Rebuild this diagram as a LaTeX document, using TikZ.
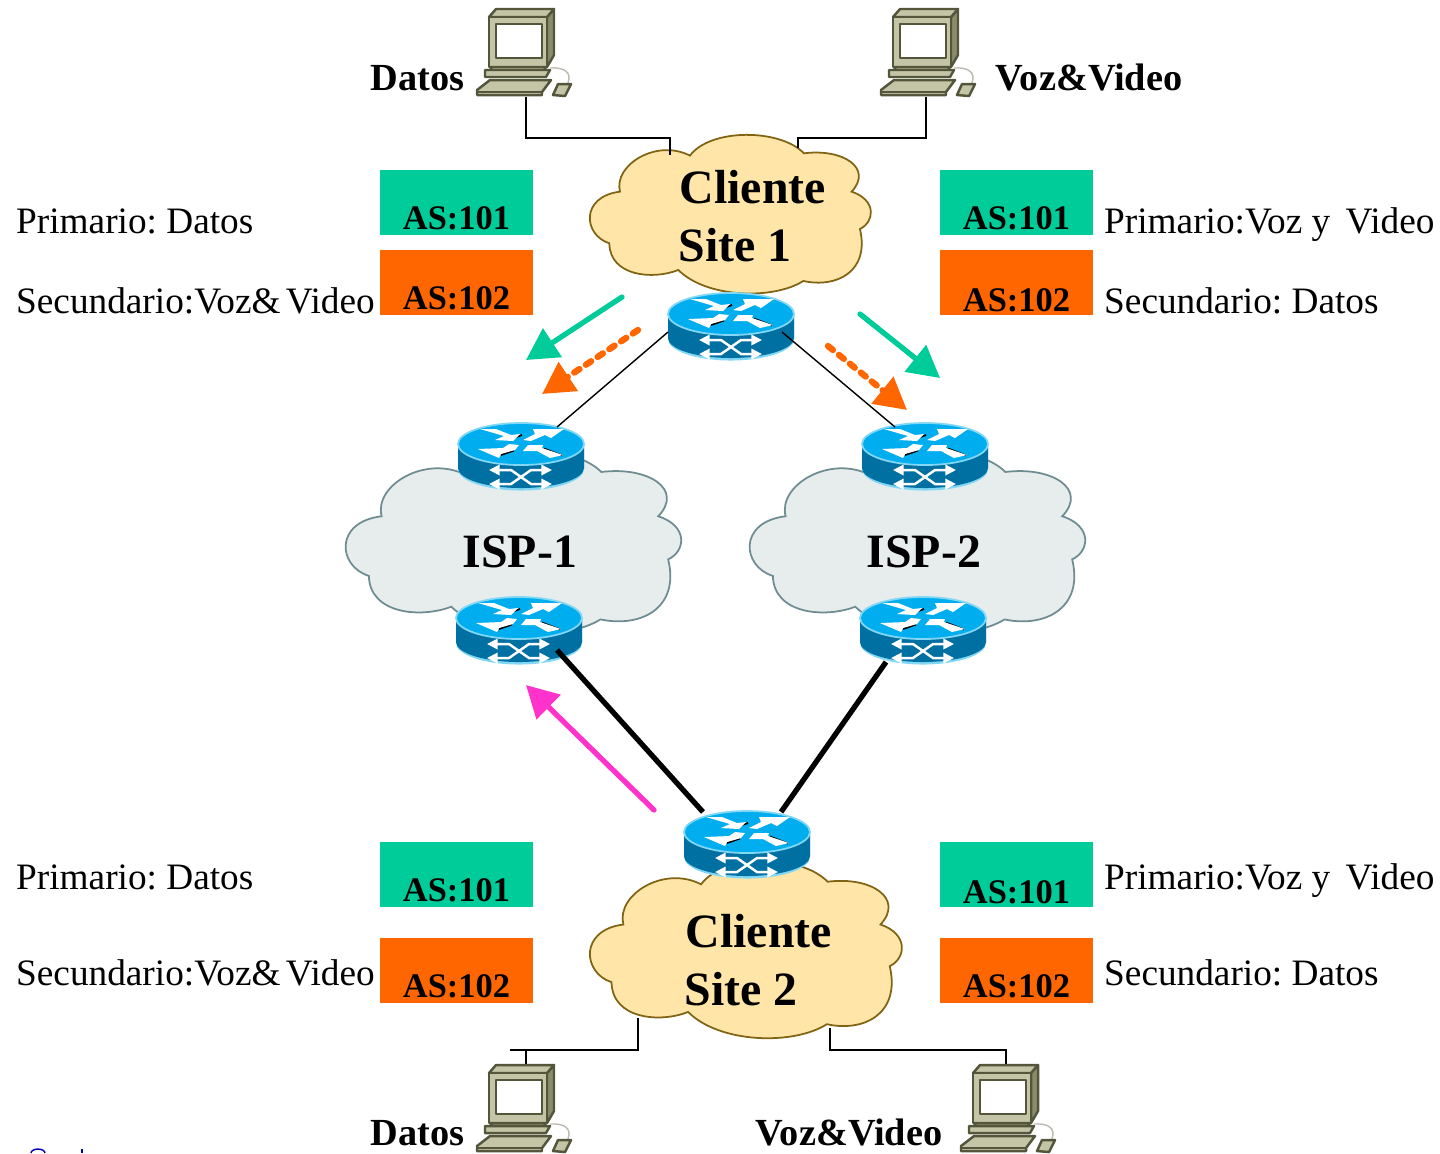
\documentclass[tikz,border=0pt]{standalone}
\usepackage{fontspec}
\setmainfont{Liberation Serif}
\usetikzlibrary{arrows.meta}
\frenchspacing
\definecolor{asgreen}{RGB}{0,204,153}
\definecolor{asorange}{RGB}{255,102,0}
\definecolor{asmagenta}{RGB}{255,51,204}
\definecolor{routertop}{RGB}{0,174,239}
\definecolor{routerside}{RGB}{0,112,163}
\definecolor{routerrim}{RGB}{130,215,245}
\definecolor{pcface}{RGB}{196,196,166}
\definecolor{pcedge}{RGB}{84,86,60}
\definecolor{pcside}{RGB}{140,140,108}
\definecolor{cloudsand}{RGB}{255,230,168}
\definecolor{cloudsandedge}{RGB}{128,100,20}
\definecolor{cloudgrey}{RGB}{231,236,237}
\definecolor{cloudgreyedge}{RGB}{110,140,145}
\newcommand{\cloudoutline}{(120,200) .. controls (100,120) and (230,40) .. (330,92)
  .. controls (390,10) and (600,10) .. (672,85)
  .. controls (790,70) and (880,130) .. (815,200)
  .. controls (890,225) and (885,290) .. (840,312)
  .. controls (870,440) and (770,490) .. (670,468)
  .. controls (580,525) and (380,520) .. (295,435)
  .. controls (220,465) and (90,455) .. (88,355)
  .. controls (10,330) and (0,215) .. (120,200) -- cycle}
\tikzset{
  plain/.style={inner sep=0, anchor=base west, font=\fontsize{10.6pt}{12pt}\selectfont},
  bold/.style={inner sep=0, anchor=base west, font=\fontsize{10.9pt}{12pt}\selectfont\bfseries},
  big/.style={inner sep=0, anchor=base west, font=\fontsize{13.6pt}{15pt}\selectfont\bfseries},
  astag/.style={inner sep=0, anchor=base, font=\fontsize{9.8pt}{11pt}\selectfont\bfseries},
  flow/.style={line width=1.5pt, line cap=round, -{Triangle[length=9pt,width=9.5pt]}},
  dotflow/.style={flow, line width=1.8pt, dash pattern=on 1.8pt off 2.2pt},
  link/.style={black, line width=.4pt},
  heavy/.style={black, line width=1.5pt},
  sand/.style={fill=cloudsand, draw=cloudsandedge, line width=.5pt},
  grey/.style={fill=cloudgrey, draw=cloudgreyedge, line width=.5pt},
  sidearrow/.style={white, line width=.7pt, {Triangle[length=3pt,width=2.9pt]}-{Triangle[length=3pt,width=2.9pt]}},
  router/.pic={
    \fill[routerrim] (-63,0) -- (-63,25) arc[start angle=180,end angle=0,x radius=63,y radius=21.5] -- (63,0) -- cycle;
    \fill[routerside] (-63,0) -- (-63,24) arc[start angle=180,end angle=0,x radius=63,y radius=20] -- (63,0) -- cycle;
    \fill[routertop, draw=routerrim, line width=.5pt] (0,0) ellipse[x radius=63, y radius=21];
    \draw[black, line width=.5pt] (-8,-6) -- (1,-9) (-7,6.5) -- (-20,11) (23,4.5) -- (41,11.5);
    \fill[white] (-41,-15) -- (-25,-15) -- (-10,-9) -- (-1,-10) -- (-8,-3) -- (-26,-4) -- (-17,-8) -- cycle;
    \fill[white] (2,-4) -- (14,-10) -- (12,-15) -- (43,-15) -- (30,-6) -- (24,-9) -- (10,-3) -- cycle;
    \fill[white] (-2,1) -- (-12,0) -- (-18,4) -- (-43,5) -- (-22,14) -- (-20,10) -- (-6,6) -- cycle;
    \fill[white] (2,7) -- (7,1) -- (22,1) -- (21,4) -- (42,11) -- (29,14) -- (16,7) -- cycle;
    \draw[sidearrow] (-32,26) -- (-10,26) -- (10,40) -- (31,40);
    \draw[sidearrow] (-32,40) -- (-10,40) -- (10,26) -- (31,26);
  },
  computer/.pic={
    \begin{scope}[draw=pcedge, line width=.7pt, line join=round]
    \draw[pcedge!40, line width=.4pt] (92,73) .. controls (96,62) and (88,57) .. (74,58);
    \filldraw[fill=pcside] (71,7) -- (78,-1) -- (78,45) -- (71,57) -- cycle;
    \filldraw[fill=pcface] (13,7) -- (20,-1) -- (78,-1) -- (71,7) -- cycle;
    \filldraw[fill=pcface] (13,7) rectangle (71,57);
    \filldraw[fill=white] (20,14) rectangle (66,48);
    \filldraw[fill=pcface] (14,57) -- (70,57) -- (68,60) -- (16,60) -- cycle;
    \filldraw[fill=pcface] (9,60) -- (74,60) -- (70,67) -- (9,67) -- cycle;
    \filldraw[fill=pcface] (1,80) -- (14,70) -- (75,70) -- (66,82) -- (66,85) -- (1,85) -- cycle;
    \draw (1,82) -- (66,82);
    \filldraw[fill=pcface] (77,85) -- (82,74) -- (95,74) -- (89,86) -- cycle;
    \end{scope}
  }
}
\begin{document}
\begin{tikzpicture}[x=.01cm, y=-.01cm]
\useasboundingbox (0,0) rectangle (1440,1153);
% end points of the wires
\foreach \name/\x/\y in {pcaout/526/97, pcbout/926/97, sitea/670/155, siteb/798/148,
  sitec/638/1018, sited/830/1028, pccin/526/1066, pcdin/1006/1066, pccfree/510/1050,
  ra/668/332, rb/782/332, ispatop/557/427, ispbtop/895/427,
  ispabot/557/650, ispbbot/886/662, rca/703/812, rcb/781/812,
  ga/622/297, gb/526/360, gc/860/314, gd/940/378,
  oa/638/330, ob/542/394, oc/828/346, od/907/410, ma/654/810, mb/526/685}
  \coordinate (\name) at (\x,\y);
% clouds
\draw[sand, shift={(589.3,134.3)}, xscale=.3333, yscale=.3333, shift={(-28,-28)}] \cloudoutline;
\draw[sand, shift={(589.3,860.5)}, xscale=.370, yscale=.372, shift={(-28,-28)}] \cloudoutline;
\draw[grey, shift={(345,450)}, xscale=.398, yscale=.385, shift={(-28,-28)}] \cloudoutline;
\draw[grey, shift={(749,450)}, xscale=.398, yscale=.385, shift={(-28,-28)}] \cloudoutline;
% wires
\draw[link] (pcaout) -- ++(0,41) -| (sitea);
\draw[link] (pcbout) -- ++(0,41) -| (siteb);
\draw[link] (sitec) -- ++(0,32) -- (pccfree);
\draw[link] (pccin) -- ++(0,-16);
\draw[link] (sited) -- ++(0,22) -| (pcdin);
% routers
\pic at (731,314) {router};
\pic at (521,444) {router};
\pic at (925,444) {router};
\pic at (519,618) {router};
\pic at (923,618) {router};
\pic at (747,832) {router};
% links
\draw[link] (ra) -- (ispatop);
\draw[link] (rb) -- (ispbtop);
\draw[heavy] (ispabot) -- (rca);
\draw[heavy] (ispbbot) -- (rcb);
% computers
\pic at (476,10) {computer};
\pic at (880,10) {computer};
\pic at (476,1066) {computer};
\pic at (960,1066) {computer};
% AS boxes
\foreach \x/\y/\col/\lab/\base in {380/170/asgreen/AS:101/229, 380/250/asorange/AS:102/309,
  940/170/asgreen/AS:101/229, 940/250/asorange/AS:102/311,
  380/842/asgreen/AS:101/901, 380/938/asorange/AS:102/997,
  940/842/asgreen/AS:101/903, 940/938/asorange/AS:102/997} {
  \fill[\col] (\x,\y) rectangle ++(153,65);
  \node[astag] (tag\x\y) at (\x+76.5,\base) {\lab};
}
% flows
\draw[flow, asgreen] (ga) -- (gb);
\draw[flow, asgreen] (gc) -- (gd);
\draw[dotflow, asorange] (oa) -- (ob);
\draw[dotflow, asorange] (oc) -- (od);
\draw[flow, asmagenta] (ma) -- (mb);
% labels
\node[big] (sa1) at (679,203) {Cliente};
\node[big] (sa2) at (678,261) {Site 1};
\node[big] (sb1) at (685,947) {Cliente};
\node[big] (sb2) at (684,1005) {Site 2};
\node[big] (isp1) at (462,567) {ISP-1};
\node[big] (isp2) at (866,567) {ISP-2};
\node[bold] (pca) at (370,90) {Datos};
\node[bold] (pcb) at (995,90) {Voz\&Video};
\node[bold] (pcc) at (370,1145) {Datos};
\node[bold] (pcd) at (755,1145) {Voz\&Video};
\node[plain] (la1) at (15.5,233) {Primario: Datos};
\node[plain] (la2) at (15.5,313) {Secundario:Voz\&\hspace{1.5pt}Video};
\node[plain] (lb1) at (1103.5,233) {Primario:Voz y\hspace{1.7pt} Video};
\node[plain] (lb2) at (1103.5,313) {Secundario: Datos};
\node[plain] (lc1) at (15.5,889) {Primario: Datos};
\node[plain] (lc2) at (15.5,985) {Secundario:Voz\&\hspace{1.5pt}Video};
\node[plain] (ld1) at (1103.5,889) {Primario:Voz y\hspace{1.7pt} Video};
\node[plain] (ld2) at (1103.5,985) {Secundario: Datos};
% cut off mark at the lower edge
\draw[blue!70!black, line width=.4pt] (31,1153) arc[start angle=180,end angle=360,x radius=7,y radius=4];
\draw[blue!70!black, line width=.6pt] (82,1153) -- (82,1149);
\end{tikzpicture}
\end{document}
